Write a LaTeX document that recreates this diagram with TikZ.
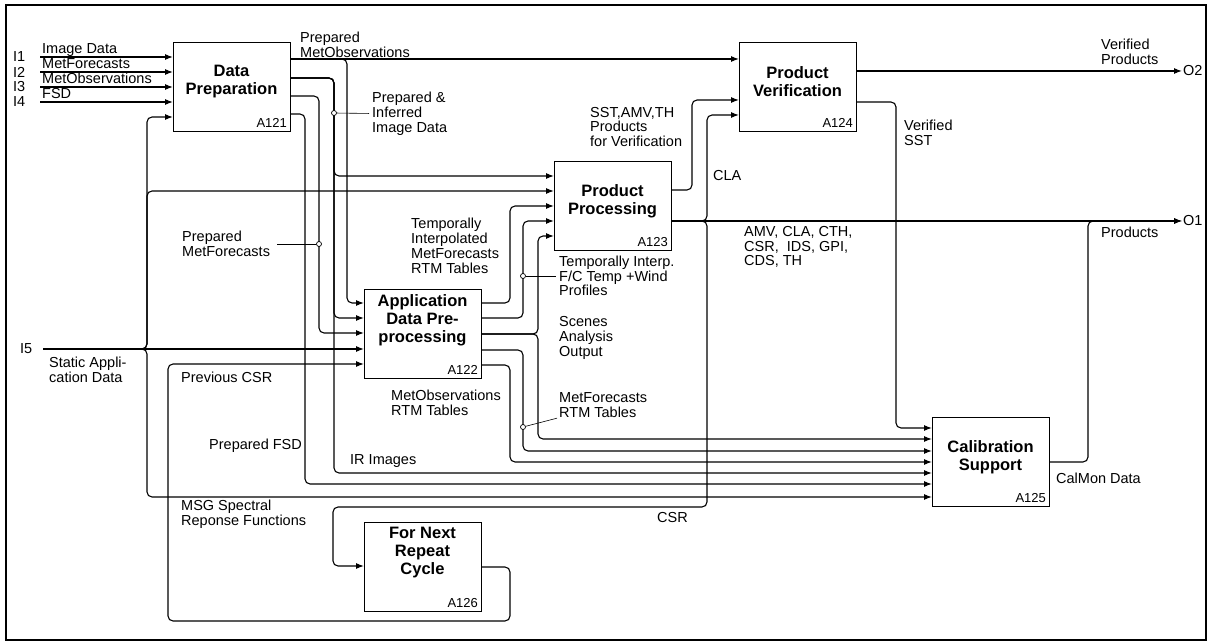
\documentclass[tikz,border=0pt]{standalone}
\usepackage{fontspec}
\setmainfont{Liberation Sans}
\usetikzlibrary{arrows.meta}
\tikzset{
  fn/.style={draw, line width=1.1pt, minimum width=117pt, minimum height=89pt, anchor=north west, inner sep=0},
  fntitle/.style={font=\fontsize{16.5}{18}\selectfont\bfseries, align=center, inner sep=0},
  fnnum/.style={font=\fontsize{13}{15}\selectfont, anchor=south east, inner sep=4pt},
  lbl/.style={font=\fontsize{14.5}{14.8}\selectfont, align=left, anchor=west, inner sep=0},
  flow/.style={line width=1.1pt, rounded corners=5pt, -{Latex[length=8pt,width=6pt]}},
  tag/.style={draw, circle, fill=white, line width=0.7pt, minimum size=5pt, inner sep=0},
  lead/.style={line width=0.6pt}
}
\begin{document}
\begin{tikzpicture}[x=1pt, y=-1pt]
  \useasboundingbox (0,0) rectangle (1211,644);
  \draw[line width=1.6pt] (6,5) rectangle (1206,640);

  % activity boxes
  \node[fn] (dp) at (173,42) {};
  \node[fn] (pv) at (739,42) {};
  \node[fn] (pp) at (554,161) {};
  \node[fn] (ap) at (364,289) {};
  \node[fn] (cs) at (932,417) {};
  \node[fn] (nc) at (364,522) {};
  \node[fntitle] (dp-t) at (231.5,81.5) {Data\\Preparation};
  \node[fntitle] (pv-t) at (797.5,82) {Product\\Verification};
  \node[fntitle] (pp-t) at (612.5,201.5) {Product\\Processing};
  \node[fntitle] (ap-t) at (422.5,320) {Application\\Data Pre-\\processing};
  \node[fntitle] (cs-t) at (990.5,457.5) {Calibration\\Support};
  \node[fntitle] (nc-t) at (422.5,553) {For Next\\Repeat\\Cycle};
  \node[fnnum] (dp-n) at (dp.south east) {A121};
  \node[fnnum] (ap-n) at (ap.south east) {A122};
  \node[fnnum] (pp-n) at (pp.south east) {A123};
  \node[fnnum] (pv-n) at (pv.south east) {A124};
  \node[fnnum] (cs-n) at (cs.south east) {A125};
  \node[fnnum] (nc-n) at (nc.south east) {A126};

  % external inputs and outputs
  \foreach \y/\n/\t in {57/1/Image Data, 72/2/MetForecasts, 87/3/MetObservations, 102/4/FSD} {
    \coordinate (i\n) at (40,\y);
    \node[lbl] (i\n-l) at (13,\y) {I\n};
    \node[lbl, anchor=base west] (i\n-t) at (42,\y-3) {\t};
    \draw[flow] (i\n) -- (dp.west |- i\n);
  }
  \coordinate (i5) at (43,349);
  \coordinate (o1) at (1182,221);
  \coordinate (o2) at (1182,71);
  \node[lbl] (i5-l) at (20,349) {I5};
  \node[lbl] (o1-l) at (1183,221) {O1};
  \node[lbl] (o2-l) at (1183,71) {O2};

  % static data bus
  \draw[flow] (i5) -- (ap.west |- i5);
  \draw[flow] (i5) -- (147,349) -- (147,117) -- (dp.west |- 0,117);
  \draw[flow] (i5) -- (147,349) -- (147,191) -- (pp.west |- 0,191);
  \draw[flow] (i5) -- (147,349) -- (147,497) -- (cs.west |- 0,497);

  % outputs of A121
  \draw[flow] (dp.east |- 0,59) -- (pv.west |- 0,59);
  \draw[flow] (dp.east |- 0,59) -- (347,59) -- (347,303) -- (ap.west |- 0,303);
  \draw[flow] (dp.east |- 0,78) -- (334,78) -- (334,176) -- (pp.west |- 0,176);
  \draw[flow] (dp.east |- 0,78) -- (334,78) -- (334,318) -- (ap.west |- 0,318);
  \draw[flow] (dp.east |- 0,78) -- (334,78) -- (334,473) -- (cs.west |- 0,473);
  \draw[flow] (dp.east |- 0,96) -- (319,96) -- (319,333) -- (ap.west |- 0,333);
  \draw[flow] (dp.east |- 0,114) -- (305,114) -- (305,484) -- (cs.west |- 0,484);

  % outputs of A122
  \draw[flow] (ap.east |- 0,303) -- (510,303) -- (510,206) -- (pp.west |- 0,206);
  \draw[flow] (ap.east |- 0,318) -- (523,318) -- (523,221) -- (pp.west |- 0,221);
  \draw[flow] (ap.east |- 0,334) -- (538,334) -- (538,236) -- (pp.west |- 0,236);
  \draw[flow] (ap.east |- 0,334) -- (538,334) -- (538,439) -- (cs.west |- 0,439);
  \draw[flow] (ap.east |- 0,350) -- (523,350) -- (523,451) -- (cs.west |- 0,451);
  \draw[flow] (ap.east |- 0,365) -- (510,365) -- (510,462) -- (cs.west |- 0,462);

  % previous CSR loop
  \draw[flow] (nc.east |- 0,567) -- (510,567) -- (510,621) -- (168,621) -- (168,364) -- (ap.west |- 0,364);

  % outputs of A123
  \draw[flow] (pp.east |- 0,190) -- (692,190) -- (692,100) -- (pv.west |- 0,100);
  \draw[flow] (pp.east |- 0,221) -- (o1);
  \draw[flow] (pp.east |- 0,221) -- (707,221) -- (707,115) -- (pv.west |- 0,115);
  \draw[flow] (pp.east |- 0,221) -- (707,221) -- (707,507) -- (333,507) -- (333,566) -- (nc.west |- 0,566);

  % outputs of A124 and A125
  \draw[flow] (pv.east |- 0,71) -- (o2);
  \draw[flow] (pv.east |- 0,102) -- (896,102) -- (896,428) -- (cs.west |- 0,428);
  \draw[flow] (cs.east |- 0,462) -- (1088,462) -- (1088,221) -- (o1);

  % arrow labels
  \node[lbl] (l-pmo) at (300,44.5) {Prepared\\MetObservations};
  \node[lbl] (l-pii) at (372,113.5) {Prepared \&\\Inferred\\Image Data};
  \node[lbl] (l-sst) at (590,127) {SST,AMV,TH\\Products\\for Verification};
  \node[lbl] (l-cla) at (713,176) {CLA};
  \node[lbl] (l-vs) at (904,132.5) {Verified\\SST};
  \node[lbl] (l-vp) at (1101,51.5) {Verified\\Products};
  \node[lbl] (l-tim) at (411,246) {Temporally\\Interpolated\\MetForecasts\\RTM Tables};
  \node[lbl] (l-pmf) at (182,244) {Prepared\\MetForecasts};
  \node[lbl] (l-tfc) at (559,276) {Temporally Interp.\\F/C Temp +Wind\\Profiles};
  \node[lbl] (l-amv) at (744,247) {AMV, CLA, CTH,\\CSR,\ \ IDS, GPI,\\CDS, TH};
  \node[lbl] (l-prd) at (1101,232) {Products};
  \node[lbl] (l-sao) at (559,338) {Scenes\\Analysis\\Output};
  \node[lbl] (l-mor) at (391,403) {MetObservations\\RTM Tables};
  \node[lbl] (l-mfr) at (559,405) {MetForecasts\\RTM Tables};
  \node[lbl] (l-sad) at (49,370) {Static Appli-\\cation Data};
  \node[lbl] (l-pcsr) at (181,377) {Previous CSR};
  \node[lbl] (l-fsd) at (209,446) {Prepared FSD};
  \node[lbl] (l-ir) at (350,461) {IR Images};
  \node[lbl] (l-msg) at (181,514.5) {MSG Spectral\\Reponse Functions};
  \node[lbl] (l-csr) at (657,518) {CSR};
  \node[lbl] (l-cal) at (1056,478) {CalMon Data};

  % squiggle tags
  \node[tag] (t1) at (334,113) {};
  \node[tag] (t2) at (319,244) {};
  \node[tag] (t3) at (523,276) {};
  \node[tag] (t4) at (523,427) {};
  \draw[lead, shorten >=3pt] (t1) -- (l-pii.west);
  \draw[lead, shorten <=7pt] (l-pmf.east) -- (t2);
  \draw[lead, shorten >=3pt] (t3) -- (l-tfc.west);
  \draw[lead, shorten >=2pt] (t4) -- (l-mfr.south west);
\end{tikzpicture}
\end{document}
